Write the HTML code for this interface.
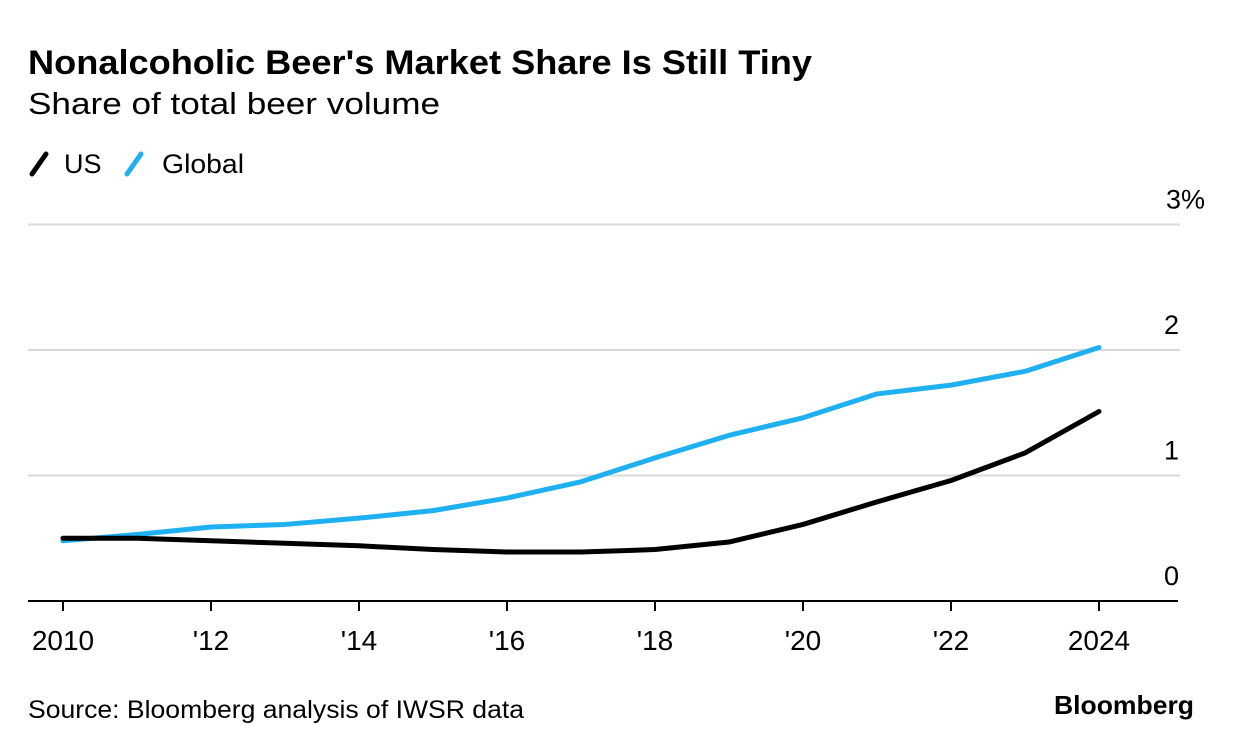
<!DOCTYPE html>
<html><head><meta charset="utf-8"><style>
body{margin:0;background:#fff;font-family:"Liberation Sans",Arial,sans-serif;}
#wrap{position:relative;width:1233px;height:750px;overflow:hidden;}
</style></head><body>
<div id="wrap">
<svg id="chart" width="1233" height="750" xmlns="http://www.w3.org/2000/svg">
<text x="28" y="74" font-size="34" font-weight="bold" fill="#000" textLength="784" lengthAdjust="spacingAndGlyphs">Nonalcoholic Beer's Market Share Is Still Tiny</text>
<text x="28" y="114" font-size="31" fill="#000" textLength="412" lengthAdjust="spacingAndGlyphs">Share of total beer volume</text>
<g>
<g><line x1="32" y1="174" x2="46" y2="154" stroke="#000" stroke-width="5" stroke-linecap="round"/><text x="64" y="173" font-size="27" fill="#000">US</text></g>
<g><line x1="127" y1="174" x2="141" y2="154" stroke="#1fb0f2" stroke-width="5" stroke-linecap="round"/><text x="162" y="173" font-size="27" fill="#000" textLength="82" lengthAdjust="spacingAndGlyphs">Global</text></g>
</g>
<g id="grid"></g><g id="axes"></g><g id="series"></g>
<text x="28" y="718" font-size="25" fill="#000" textLength="496" lengthAdjust="spacingAndGlyphs">Source: Bloomberg analysis of IWSR data</text>
<text x="1194" y="714" font-size="26" font-weight="bold" fill="#000" text-anchor="end" textLength="140" lengthAdjust="spacingAndGlyphs">Bloomberg</text>
</svg>
</div>
<script>
const years=[2010,2011,2012,2013,2014,2015,2016,2017,2018,2019,2020,2021,2022,2023,2024];
const globalShare=[0.48,0.53,0.59,0.61,0.66,0.72,0.82,0.95,1.14,1.32,1.46,1.65,1.72,1.83,2.02];
const usShare=[0.50,0.50,0.48,0.46,0.44,0.41,0.39,0.39,0.41,0.47,0.61,0.79,0.96,1.18,1.51];
const yTicks=[0,1,2,3];
const yTickLabels=['0','1','2','3%'];
const xTicks=[2010,2012,2014,2016,2018,2020,2022,2024];
const xTickLabels=['2010',"'12","'14","'16","'18","'20","'22",'2024'];
const NS='http://www.w3.org/2000/svg';
const xs=v=>63+(v-2010)*(1099-63)/14;
const ys=v=>601-v*125.5;
function mk(tag,attrs,parent){const e=document.createElementNS(NS,tag);for(const k in attrs)e.setAttribute(k,attrs[k]);parent.appendChild(e);return e;}
const grid=document.getElementById('grid'),axes=document.getElementById('axes'),series=document.getElementById('series');
yTicks.forEach((t,i)=>{
 if(t>0){const l=mk('line',{x1:28,x2:1180,y1:ys(t),y2:ys(t),stroke:'#d9d9d9','stroke-width':2},grid);
 
 }
 const tx=mk('text',{x:t===3?1205:1179,y:ys(t)-16,'font-size':27,'text-anchor':'end',fill:'#000'},axes);
 tx.textContent=yTickLabels[i];
 
 
});
const ax=mk('line',{x1:28,x2:1178,y1:601,y2:601,stroke:'#000','stroke-width':2},axes);


xTicks.forEach((t,i)=>{
 const tk=mk('line',{x1:xs(t),x2:xs(t),y1:601,y2:611,stroke:'#000','stroke-width':2},axes);
 
 
 const tx=mk('text',{x:xs(t),y:650,'font-size':28,'text-anchor':'middle',fill:'#000'},axes);
 tx.textContent=xTickLabels[i];
 
 
});
function line(vals,color,name){
 const d=vals.map((v,i)=>(i?'L':'M')+xs(years[i])+' '+ys(v)).join(' ');
 const p=mk('path',{d:d,fill:'none',stroke:color,'stroke-width':5,'stroke-linejoin':'round','stroke-linecap':'round'},series);
 
 
}
line(globalShare,'#1fb0f2','global-line');
line(usShare,'#000','us-line');
</script>
</body></html>
